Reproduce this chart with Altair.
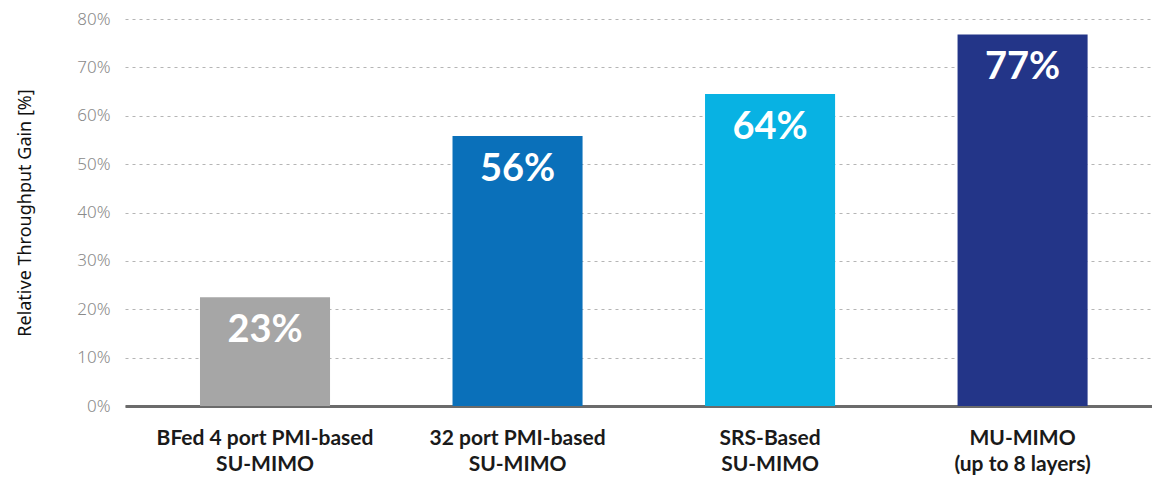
import altair as alt
import pandas as pd

categories = ["BFed 4 port PMI-based\nSU-MIMO", "32 port PMI-based\nSU-MIMO",
              "SRS-Based\nSU-MIMO", "MU-MIMO\n(up to 8 layers)"]
values = [22.5, 55.8, 64.5, 76.8]
labels = ["23%", "56%", "64%", "77%"]
colors = ["#A6A6A6", "#0A70BA", "#08B2E3", "#233588"]

df = pd.DataFrame({"cat": categories, "val": values, "lab": labels, "col": colors})

x = alt.X("cat:N", sort=categories, title=None,
          scale=alt.Scale(paddingInner=0.485, paddingOuter=0.276, align=0.538),
          axis=alt.Axis(labelExpr="split(datum.label, '\\n')", labelAngle=0,
                        labelFont="Lato", labelFontWeight="bold", labelFontSize=21,
                        labelColor="#1a1a1a", labelLineHeight=26, labelPadding=21,
                        labelBaseline="top", labelLimit=400,
                        ticks=False, domainColor="#6b6b6b", domainWidth=3))

y = alt.Y("val:Q", title="Relative Throughput Gain [%]",
          scale=alt.Scale(domain=[0, 80]),
          axis=alt.Axis(values=[0, 10, 20, 30, 40, 50, 60, 70, 80],
                        labelExpr="datum.value + '%'",
                        labelFont="Noto Sans", labelFontSize=17, labelColor="#8a8a8a",
                        labelFontWeight=300,
                        labelPadding=15, ticks=False, domain=False,
                        grid=True, gridDash=[3, 4], gridColor="#b5b5b5", gridWidth=1,
                        titleFont="Noto Sans", titleFontSize=18, titleFontWeight="normal",
                        titleColor="#111111", titlePadding=42))

bars = alt.Chart(df).mark_bar().encode(
    x=x, y=y, color=alt.Color("col:N", scale=None))

text = alt.Chart(df).mark_text(font="Lato", fontWeight="bold", fontSize=38,
                               color="white", baseline="middle", dy=34).encode(
    x=alt.X("cat:N", sort=categories), y="val:Q", text="lab:N")

chart = (bars + text).properties(
    width=1027, height=387,
    autosize=alt.AutoSizeParams(type="none"),
    padding={"left": 117, "top": 11, "right": 0, "bottom": 71},
).configure_view(stroke=None)

chart.save("out.html", embed_options={"renderer": "svg", "actions": False})
